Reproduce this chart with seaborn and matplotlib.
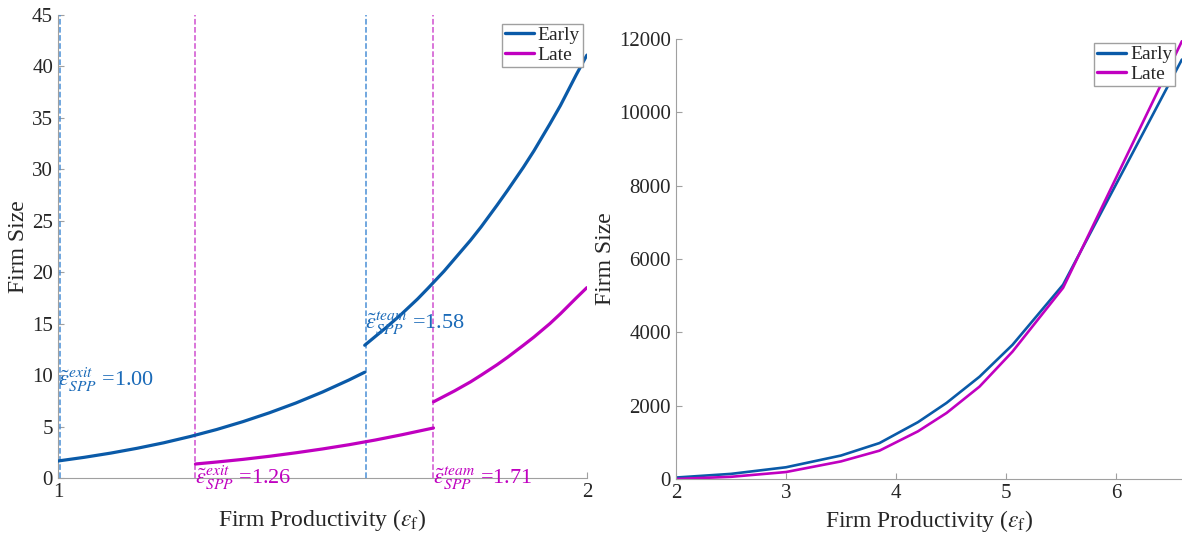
import pandas as pd
import matplotlib
matplotlib.use('Agg')
import matplotlib.pyplot as plt
from matplotlib.lines import Line2D
import seaborn as sns

# Left panel: firm size by productivity, split at the cutoffs
early_x1 = [1.00, 1.05, 1.10, 1.15, 1.20, 1.25, 1.30, 1.35, 1.40, 1.45, 1.50, 1.55, 1.58]
early_y1 = [1.65, 2.01, 2.42, 2.89, 3.42, 4.03, 4.71, 5.48, 6.34, 7.29, 8.35, 9.52, 10.28]
early_x2 = [1.58, 1.62, 1.65, 1.68, 1.70, 1.73, 1.75, 1.78, 1.80, 1.83, 1.85, 1.88,
            1.90, 1.93, 1.95, 1.98, 2.00]
early_y2 = [12.9, 14.6, 15.95, 17.4, 18.46, 20.1, 21.3, 23.1, 24.4, 26.5, 27.95, 30.2,
            31.8, 34.4, 36.2, 39.2, 41.1]
late_x1 = [1.26, 1.30, 1.35, 1.40, 1.45, 1.50, 1.55, 1.60, 1.65, 1.71]
late_y1 = [1.36, 1.55, 1.81, 2.11, 2.45, 2.82, 3.23, 3.69, 4.20, 4.86]
late_x2 = [1.71, 1.75, 1.78, 1.80, 1.83, 1.85, 1.88, 1.90, 1.93, 1.95, 1.98, 2.00]
late_y2 = [7.4, 8.47, 9.34, 9.99, 11.0, 11.73, 12.9, 13.7, 15.0, 15.96, 17.5, 18.5]

# cutoffs
early_cuts = [1.00, 1.58]
late_cuts = [1.26, 1.71]
cut_names = ['exit', 'team']

# Right panel
right_x = [2.0, 2.5, 3.0, 3.5, 3.85, 4.2, 4.46, 4.76, 5.06, 5.52, 6.6]
right_early = [40, 140, 320, 640, 980, 1550, 2075, 2790, 3660, 5300, 11440]
right_late = [0, 60, 190, 480, 773, 1300, 1800, 2520, 3475, 5215, 11940]

blue = '#0a5aa8'
magenta = '#c000c0'
blue_dash = '#4a8fd6'
mag_dash = '#d050d0'

sns.set_style('ticks')
plt.rcParams['font.family'] = ['Liberation Serif', 'DejaVu Serif']
plt.rcParams['mathtext.fontset'] = 'stix'

# build tidy frames
rows = []
for seg, (xs, ys) in enumerate([(early_x1, early_y1), (early_x2, early_y2)]):
    rows += [dict(x=a, size=b, cohort='Early', seg=f'E{seg}') for a, b in zip(xs, ys)]
for seg, (xs, ys) in enumerate([(late_x1, late_y1), (late_x2, late_y2)]):
    rows += [dict(x=a, size=b, cohort='Late', seg=f'L{seg}') for a, b in zip(xs, ys)]
df_left = pd.DataFrame(rows)

df_right = pd.concat([
    pd.DataFrame({'x': right_x, 'size': right_early, 'cohort': 'Early'}),
    pd.DataFrame({'x': right_x, 'size': right_late, 'cohort': 'Late'}),
])

pal = {'Early': blue, 'Late': magenta}

fig = plt.figure(figsize=(11.82, 5.39), dpi=100)
ax1 = fig.add_axes([0.049, 0.1132, 0.4475, 0.859])
ax2 = fig.add_axes([0.5719, 0.1113, 0.428, 0.8163])

sns.lineplot(data=df_left, x='x', y='size', hue='cohort', units='seg', estimator=None,
             palette=pal, linewidth=2.3, legend=False, ax=ax1, zorder=4)

for c, name in zip(early_cuts, cut_names):
    ax1.axvline(c + 0.003, color=blue_dash, linestyle='--', linewidth=1.1, zorder=3)
    ypos = 9.5 if name == 'exit' else 15.0
    ax1.text(c, ypos, r'$\tilde{\epsilon}^{%s}_{SPP}$ =%.2f' % (name, c), color='#1a6ab8',
             fontsize=16, va='center', ha='left', zorder=5)
for c, name in zip(late_cuts, cut_names):
    ax1.axvline(c, color=mag_dash, linestyle='--', linewidth=1.1, zorder=3)
    ax1.text(c, 0.0, r'$\tilde{\epsilon}^{%s}_{SPP}$ =%.2f' % (name, c), color=magenta,
             fontsize=16, va='center', ha='left', zorder=5)

ax1.set_xlim(1, 2)
ax1.set_ylim(0, 45)
ax1.set_xticks([1, 2])
ax1.set_yticks(range(0, 46, 5))
ax1.set_xlabel(r'Firm Productivity ($\epsilon_{\mathrm{f}}$)', fontsize=17)
ax1.set_ylabel('Firm Size', fontsize=17, labelpad=2)

sns.lineplot(data=df_right, x='x', y='size', hue='cohort', estimator=None,
             palette=pal, linewidth=1.9, legend=False, ax=ax2)
ax2.set_xlim(2, 6.6)
ax2.set_ylim(0, 12000)
ax2.set_xticks([2, 3, 4, 5, 6])
ax2.set_yticks(range(0, 12001, 2000))
ax2.set_xlabel(r'Firm Productivity ($\epsilon_{\mathrm{f}}$)', fontsize=17)
ax2.set_ylabel('Firm Size', fontsize=17, labelpad=2)

for ax in (ax1, ax2):
    sns.despine(ax=ax)
    for s in ('left', 'bottom'):
        ax.spines[s].set_color('#a0a0a0')
        ax.spines[s].set_linewidth(0.8)
    ax.tick_params(direction='in', length=4, color='#a0a0a0', labelsize=15, labelcolor='#262626')

handles = [Line2D([], [], color=blue, lw=2.4), Line2D([], [], color=magenta, lw=2.4)]
for ax, anchor in ((ax1, (1.0, 0.99)), (ax2, (0.995, 1.0))):
    ax.legend(handles, ['Early', 'Late'], loc='upper right', bbox_to_anchor=anchor,
              fontsize=14, frameon=True, fancybox=False, edgecolor='#a0a0a0',
              handlelength=1.5, handletextpad=0.2, borderpad=0.15, labelspacing=0.1,
              borderaxespad=0.2, framealpha=1)

fig.savefig('out.png', dpi=100)
